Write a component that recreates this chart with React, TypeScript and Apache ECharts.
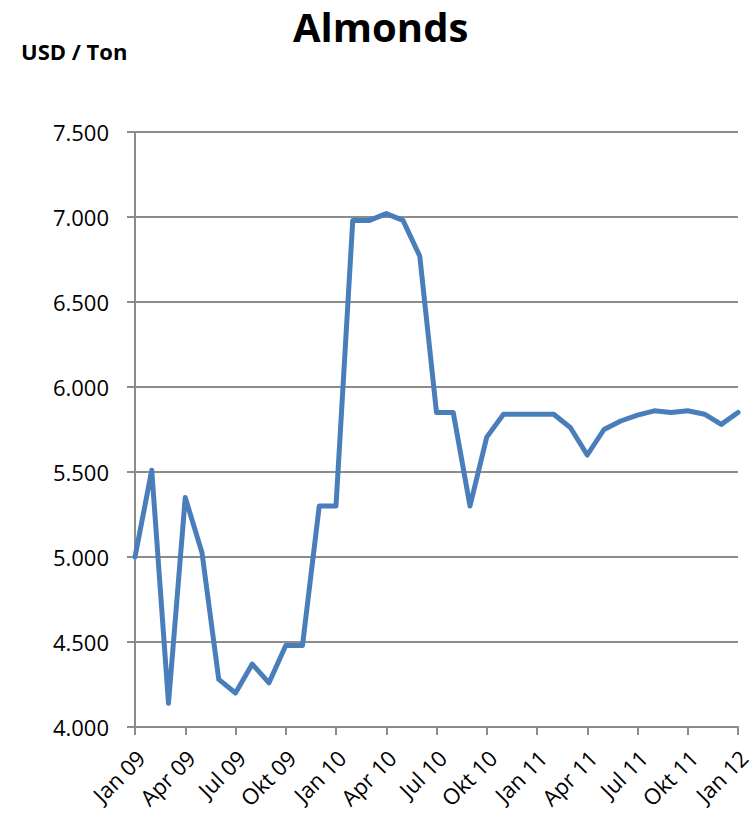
import React, { useEffect, useRef } from "react";
import * as echarts from "echarts";

// Monthly almond prices, Jan 2009 – Jan 2012 (USD per ton)
const monthNames = ["Jan", "Feb", "Mar", "Apr", "Mai", "Jun", "Jul", "Aug", "Sep", "Okt", "Nov", "Des"];
const years = ["09", "10", "11", "12"];
const categories: string[] = [];
for (let y = 0; y < years.length; y++) {
  for (let m = 0; m < 12; m++) {
    if (y === years.length - 1 && m > 0) break;
    categories.push(`${monthNames[m]} ${years[y]}`);
  }
}

const prices = [
  5000, 5510, 4140, 5350, 5025, 4280, 4200, 4370, 4260, 4480, 4480, 5300,
  5300, 6980, 6980, 7020, 6980, 6770, 5850, 5850, 5300, 5705, 5840, 5840,
  5840, 5840, 5760, 5600, 5750, 5800, 5835, 5860, 5850, 5860, 5840, 5780,
  5850,
];

const yMin = 4000;
const yMax = 7500;
const yStep = 500;

const FONT = "'Open Sans', Lato, sans-serif";
const AXIS_GRAY = "#8c8c8c";

function formatThousands(v: number): string {
  return String(v).replace(/\B(?=(\d{3})+(?!\d))/g, ".");
}

export default function App() {
  const ref = useRef<HTMLDivElement>(null);

  useEffect(() => {
    if (!ref.current) return;
    const chart = echarts.init(ref.current, null, { renderer: "svg" });
    chart.setOption({
      animation: false,
      backgroundColor: "#ffffff",
      graphic: [
        {
          type: "text",
          left: 293,
          top: 6,
          style: {
            text: "Almonds",
            font: `bold 40px ${FONT}`,
            fill: "#000",
          },
        },
        {
          type: "text",
          left: 21,
          top: 40,
          style: {
            text: "USD / Ton",
            font: `bold 22px ${FONT}`,
            fill: "#000",
          },
        },
      ],
      grid: {
        left: 135,
        right: 13,
        top: 132,
        bottom: 88,
        containLabel: false,
        outerBoundsMode: "none",
      },
      xAxis: {
        type: "category",
        data: categories,
        boundaryGap: false,
        axisLine: { lineStyle: { color: AXIS_GRAY, width: 2 } },
        axisTick: {
          show: true,
          interval: 2,
          length: 8,
          lineStyle: { color: AXIS_GRAY, width: 2 },
        },
        axisLabel: {
          interval: 2,
          rotate: 45,
          margin: 21,
          align: "right",
          verticalAlign: "top",
          lineHeight: 16,
          color: "#000",
          fontFamily: FONT,
          fontSize: 22,
        },
        splitLine: { show: false },
      },
      yAxis: {
        type: "value",
        min: yMin,
        max: yMax,
        interval: yStep,
        axisLine: { show: true, lineStyle: { color: AXIS_GRAY, width: 2 } },
        axisTick: { show: true, length: 8, lineStyle: { color: AXIS_GRAY, width: 2 } },
        axisLabel: {
          margin: 26,
          color: "#000",
          fontFamily: FONT,
          fontSize: 22,
          formatter: (v: number) => formatThousands(v),
        },
        splitLine: { show: true, lineStyle: { color: AXIS_GRAY, width: 2 } },
      },
      series: [
        {
          type: "line",
          data: prices,
          symbol: "none",
          lineStyle: { color: "#4a7ebb", width: 5, cap: "round", join: "round" },
          itemStyle: { color: "#4a7ebb" },
        },
      ],
    });
    return () => chart.dispose();
  }, []);

  return (
    <div
      ref={ref}
      style={{ position: "fixed", left: 0, top: 0, width: 751, height: 815 }}
    />
  );
}
